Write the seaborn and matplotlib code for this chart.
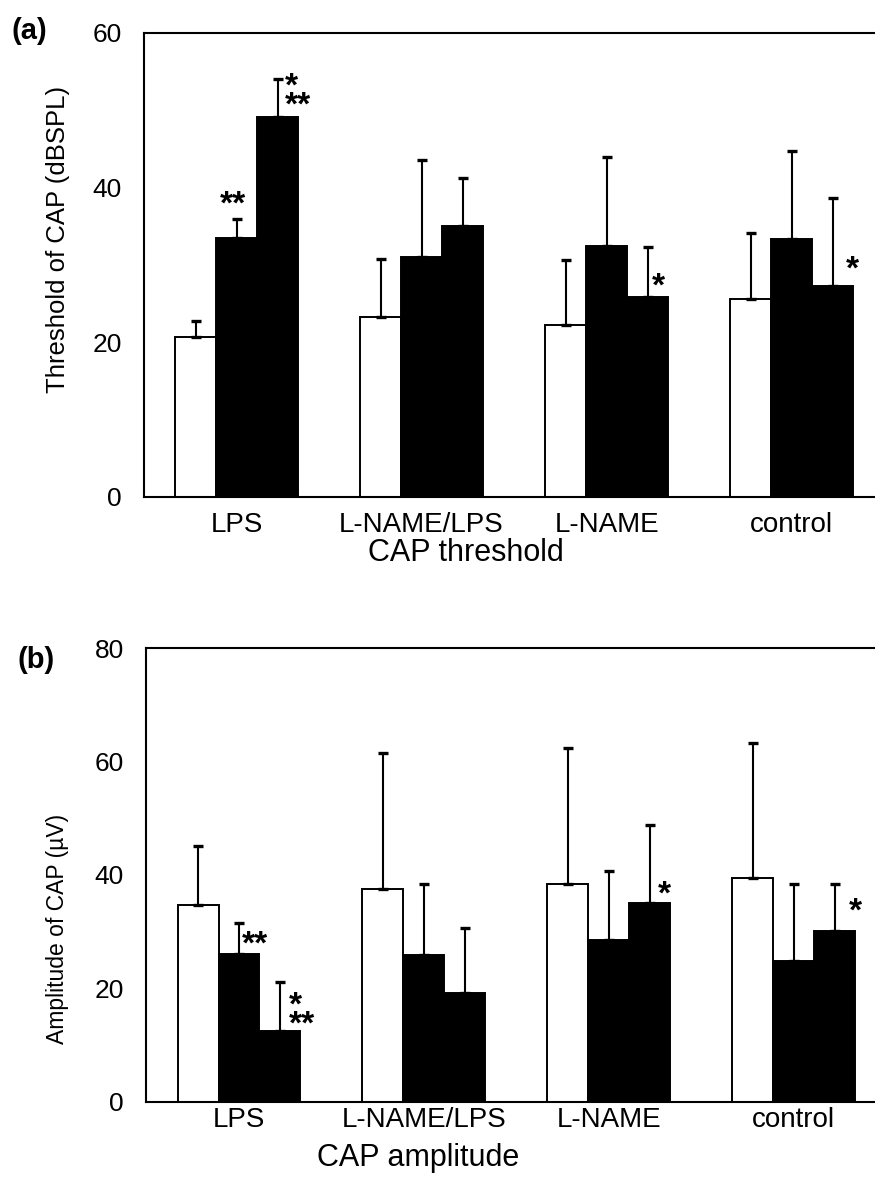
import numpy as np
import pandas as pd
import matplotlib
matplotlib.use("Agg")
import matplotlib.pyplot as plt
from matplotlib.ticker import MultipleLocator
import seaborn as sns

groups = ["LPS", "L-NAME/LPS", "L-NAME", "control"]
stages = ["pre", "post 1", "post 2"]

# (a) CAP threshold, dBSPL: mean and SD (upper bar only)
thr_pre = [20.7, 23.3, 22.3, 25.6]
thr_post1 = [33.5, 31.0, 32.4, 33.3]
thr_post2 = [49.2, 35.0, 25.8, 27.3]
thr_sd_pre = [2.1, 7.5, 8.3, 8.6]
thr_sd_post1 = [2.4, 12.6, 11.6, 11.5]
thr_sd_post2 = [4.8, 6.2, 6.5, 11.4]

# (b) CAP amplitude, uV
amp_pre = [34.6, 37.4, 38.4, 39.4]
amp_post1 = [26.0, 25.9, 28.5, 24.8]
amp_post2 = [12.5, 19.1, 35.1, 30.1]
amp_sd_pre = [10.4, 24.1, 24.0, 23.8]
amp_sd_post1 = [5.5, 12.4, 12.1, 13.5]
amp_sd_post2 = [8.5, 11.5, 13.6, 8.3]

# significance marks
thr_marks = [("LPS", "post 1", "**"), ("LPS", "post 2", "*\n**"),
             ("L-NAME", "post 2", "*"), ("control", "post 2", "*")]
amp_marks = [("LPS", "post 1", "**"), ("LPS", "post 2", "*\n**"),
             ("L-NAME", "post 2", "*"), ("control", "post 2", "*")]


def make_df(pre, p1, p2, s0, s1, s2):
    rows = []
    for i, g in enumerate(groups):
        for st, v, s in zip(stages, (pre[i], p1[i], p2[i]), (s0[i], s1[i], s2[i])):
            rows.append({"group": g, "stage": st, "value": v, "sd": s})
    return pd.DataFrame(rows)


def panel(ax, df, marks, mark_pos, ymax, xlim, xpad):
    sns.barplot(data=df, x="group", y="value", hue="stage", order=groups,
                hue_order=stages, palette=["white", "black", "black"],
                edgecolor="black", linewidth=1.4, width=0.665, gap=0,
                saturation=1, errorbar=None, legend=False, ax=ax)
    bars = sorted(ax.patches, key=lambda p: p.get_x())
    xs = np.array([b.get_x() + b.get_width() / 2 for b in bars])
    tops = np.array([b.get_height() for b in bars])
    ax.errorbar(xs, tops, yerr=[np.zeros(len(xs)), df["sd"].values], fmt="none",
                ecolor="black", elinewidth=1.5, capsize=3.8, capthick=2.4)
    for (g, st, txt), (dx, dy, ha) in zip(marks, mark_pos):
        k = groups.index(g) * 3 + stages.index(st)
        ax.text(xs[k] + dx, tops[k] + dy, txt, ha=ha, va="center",
                fontsize=24, fontweight="bold", linespacing=0.5)
    ax.set_xlim(*xlim)
    ax.set_ylim(0, ymax)
    ax.yaxis.set_major_locator(MultipleLocator(20))
    ax.yaxis.set_minor_locator(MultipleLocator(10))
    ax.tick_params(axis="y", which="both", direction="in", length=3, width=1,
                   labelsize=19, pad=16)
    ax.tick_params(axis="x", length=0, labelsize=20, pad=xpad)
    ax.spines["right"].set_visible(False)
    for s in ["left", "top", "bottom"]:
        ax.spines[s].set_linewidth(1.5)


sns.set_style("white")
plt.rcParams["font.family"] = ["Liberation Sans", "DejaVu Sans"]
plt.rcParams.update({"text.color": "black", "axes.labelcolor": "black",
                     "xtick.color": "black", "ytick.color": "black",
                     "axes.edgecolor": "black"})

fig = plt.figure(figsize=(8.75, 11.91), dpi=100)
ax1 = fig.add_axes([144 / 875, 1 - 497 / 1191, 731 / 875, 464 / 1191])
ax2 = fig.add_axes([146 / 875, 1 - 1101.5 / 1191, 729 / 875, 453.5 / 1191])

df_thr = make_df(thr_pre, thr_post1, thr_post2, thr_sd_pre, thr_sd_post1, thr_sd_post2)
df_amp = make_df(amp_pre, amp_post1, amp_post2, amp_sd_pre, amp_sd_post1, amp_sd_post2)

panel(ax1, df_thr, thr_marks,
      [(-0.02, 4.3, "center"), (0.04, 2.6, "left"), (0.06, 1.4, "center"), (0.105, 2.0, "center")],
      60, (-0.5, 3.45), 11)
panel(ax2, df_amp, amp_marks,
      [(0.087, 1.6, "center"), (0.05, 2.6, "left"), (0.08, 1.3, "center"), (0.115, 3.4, "center")],
      80, (-0.503, 3.44), 4)

ax1.set_xlabel("CAP threshold", fontsize=22)
ax1.set_ylabel("Threshold of CAP (dBSPL)", fontsize=18.5)
ax2.set_xlabel("CAP amplitude", fontsize=22)
ax2.set_ylabel("Amplitude of CAP (\u00b5V)", fontsize=16.5)
for ax, xl, yl in [(ax1, (0.4405, -0.1207), (-0.118, 0.556)),
                   (ax2, (0.373, -0.1246), (-0.122, 0.381))]:
    ax.xaxis.set_label_coords(*xl)
    ax.xaxis.label.set_va("center")
    ax.yaxis.set_label_coords(*yl)
    ax.yaxis.label.set_va("center")

fig.text(29 / 875, 1 - 31 / 1191, "(a)", fontsize=21, fontweight="bold", ha="center", va="center")
fig.text(36 / 875, 1 - 660 / 1191, "(b)", fontsize=21, fontweight="bold", ha="center", va="center")

fig.savefig("out.png", dpi=100)
